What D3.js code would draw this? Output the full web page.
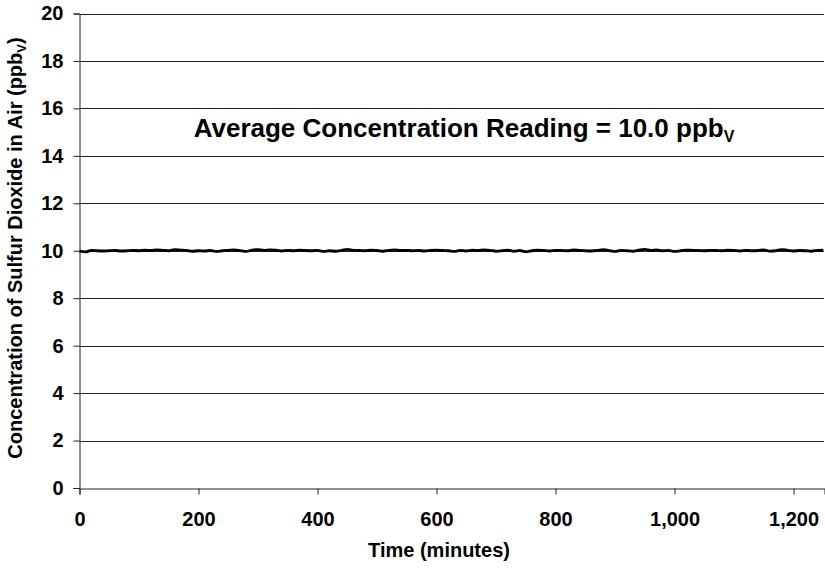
<!DOCTYPE html>
<html>
<head>
<meta charset="utf-8">
<script src="https://cdn.jsdelivr.net/npm/d3@7"></script>
<style>
  body { margin: 0; background: #fff; }
</style>
</head>
<body>
<div id="chart"></div>
<script>
// readings every 10 minutes
const minutes = d3.range(0, 1260, 10)
const so2 = [
  9.98, 9.95, 10.02, 10.00, 9.99, 10.00, 10.01, 9.99, 10.00, 10.02, 10.00, 10.03, 10.01, 10.04, 10.02, 10.00,
  10.05, 10.03, 10.01, 9.98, 10.00, 9.99, 10.01, 9.97, 10.00, 10.02, 10.04, 10.01, 9.97, 10.03, 10.05, 10.02,
  10.04, 10.03, 9.99, 10.02, 10.00, 10.03, 10.01, 10.00, 10.02, 9.97, 10.00, 9.98, 10.01, 10.06, 10.02, 10.01,
  10.00, 10.03, 10.01, 9.98, 10.02, 10.04, 10.01, 10.02, 10.00, 10.01, 9.99, 10.02, 10.03, 10.01, 10.00, 9.97,
  10.02, 9.99, 10.03, 10.01, 10.04, 10.02, 9.98, 10.00, 10.03, 9.98, 10.01, 9.96, 10.00, 10.03, 10.01, 9.99,
  10.02, 10.01, 10.00, 10.04, 10.02, 10.00, 9.99, 10.01, 10.05, 10.01, 9.97, 10.02, 10.00, 9.98, 10.03, 10.06,
  10.02, 10.04, 10.00, 10.01, 9.97, 10.00, 10.03, 10.02, 10.01, 10.00, 10.02, 10.01, 10.00, 10.03, 10.01, 9.99,
  10.02, 10.00, 10.01, 10.04, 9.98, 10.00, 10.05, 10.02, 9.99, 10.01, 10.00, 9.98, 10.02, 10.03, 10.05, 10.02
]
const yTicks = [0, 2, 4, 6, 8, 10, 12, 14, 16, 18, 20]
const xTicks = [0, 200, 400, 600, 800, 1000, 1200]
const avgLabel = 'Average Concentration Reading = 10.0 ppb'
const yLabel = 'Concentration of Sulfur Dioxide in Air (ppb'
const xLabel = 'Time (minutes)'

const width = 825
const height = 571
const margin = { top: 13.5, right: 0.5, bottom: 83, left: 79.5 }
const font = "'Liberation Sans', Arial, sans-serif"

const svg = d3.select('#chart').append('svg')
  .attr('width', width)
  .attr('height', height)

const x = d3.scaleLinear()
  .domain([0, 1252])
  .range([margin.left, width - margin.right])

const y = d3.scaleLinear()
  .domain([0, 20])
  .range([height - margin.bottom, margin.top])

const boldText = (sel, size) => sel
  .style('font-family', font)
  .style('font-weight', 700)
  .style('font-size', size)
  .style('fill', '#000')

// gridlines
svg.append('g')
  .selectAll('line')
  .data(yTicks.filter(d => d > 0))
  .join('line')
  .attr('x1', margin.left)
  .attr('x2', width - 1)
  .attr('y1', d => Math.round(y(d)) + 0.5)
  .attr('y2', d => Math.round(y(d)) + 0.5)
  .attr('stroke', '#222')
  .attr('stroke-width', 1)

// y axis
const yAxis = svg.append('g')
  .attr('transform', `translate(${margin.left},0)`)
  .call(d3.axisLeft(y).tickValues(yTicks).tickSize(6).tickPadding(10))
yAxis.select('.domain').attr('stroke', '#222')
yAxis.selectAll('.tick line').attr('stroke', '#222')
boldText(yAxis.selectAll('.tick text'), '20px')

// x axis
const xAxis = svg.append('g')
  .attr('transform', `translate(0,${Math.round(y(0)) + 0.5})`)
  .call(d3.axisBottom(x).tickValues(xTicks).tickSize(6).tickPadding(17).tickFormat(d3.format(',')))
xAxis.select('.domain').attr('stroke', '#222')
xAxis.selectAll('.tick line').attr('stroke', '#222')
boldText(xAxis.selectAll('.tick text'), '20px')

// data line
const line = d3.line()
  .x((d, i) => x(minutes[i]))
  .y(d => y(d))
  .curve(d3.curveMonotoneX)

svg.append('path')
  .datum(so2)
  .attr('fill', 'none')
  .attr('stroke', '#000')
  .attr('stroke-width', 2.8)
  .attr('d', line)

// annotation
const ann = boldText(svg.append('text'), '26px')
  .attr('x', 464)
  .attr('y', 137)
  .attr('text-anchor', 'middle')
ann.append('tspan').text(avgLabel)
ann.append('tspan').attr('dy', 5).style('font-size', '16px').text('V')

// axis titles
boldText(svg.append('text'), '20px')
  .attr('x', 439)
  .attr('y', 557)
  .attr('text-anchor', 'middle')
  .text(xLabel)

const yt = boldText(svg.append('text'), '20px')
  .attr('transform', `translate(22,248) rotate(-90)`)
  .attr('text-anchor', 'middle')
yt.append('tspan').text(yLabel)
yt.append('tspan').attr('dy', 4).style('font-size', '13px').text('V')
yt.append('tspan').attr('dy', -4).text(')')
</script>
</body>
</html>
